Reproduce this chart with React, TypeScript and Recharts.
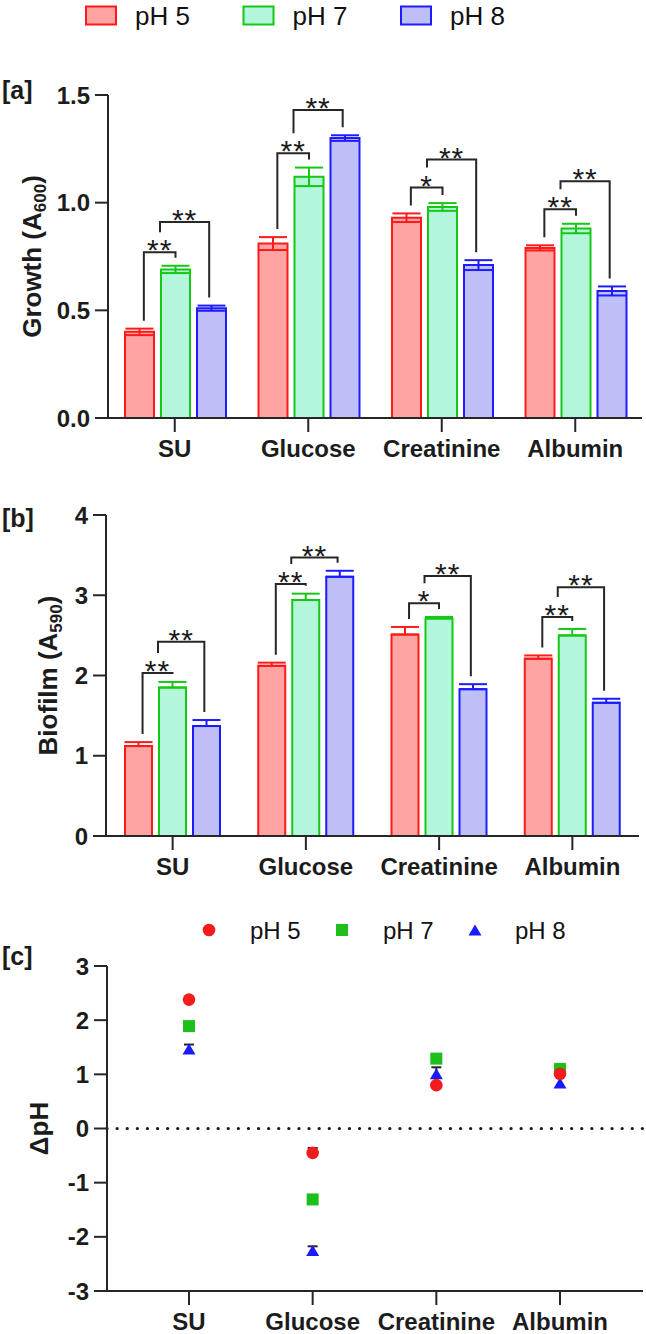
import React from "react";
import {
  BarChart,
  Bar,
  XAxis,
  YAxis,
  ErrorBar,
  Rectangle,
  ComposedChart,
  Scatter,
  ReferenceLine,
} from "recharts";

const CATEGORIES = ["SU", "Glucose", "Creatinine", "Albumin"];
const SERIES = ["pH 5", "pH 7", "pH 8"];

// [a] growth, A600 (mean, error)
const GROWTH_PH5 = [0.4, 0.81, 0.93, 0.79];
const GROWTH_PH7 = [0.69, 1.12, 0.98, 0.88];
const GROWTH_PH8 = [0.51, 1.3, 0.71, 0.59];
const GROWTH_ERR_PH5 = [0.015, 0.03, 0.02, 0.012];
const GROWTH_ERR_PH7 = [0.017, 0.043, 0.018, 0.022];
const GROWTH_ERR_PH8 = [0.012, 0.013, 0.023, 0.021];
// significance brackets: first pair, second pair, and their heights
const GROWTH_SIG_A = ["**", "**", "*", "**"];
const GROWTH_SIG_B = ["**", "**", "**", "**"];
const GROWTH_LEVEL_A = [0.77, 1.23, 1.07, 0.97];
const GROWTH_LEVEL_B = [0.91, 1.43, 1.2, 1.1];
const GROWTH_TICKS = [0, 0.5, 1, 1.5];

// [b] biofilm, A590 (mean, upper error)
const BIOFILM_PH5 = [1.12, 2.12, 2.51, 2.21];
const BIOFILM_PH7 = [1.85, 2.94, 2.71, 2.5];
const BIOFILM_PH8 = [1.37, 3.23, 1.83, 1.66];
const BIOFILM_ERR_PH5 = [0.05, 0.04, 0.095, 0.04];
const BIOFILM_ERR_PH7 = [0.07, 0.08, 0.02, 0.08];
const BIOFILM_ERR_PH8 = [0.075, 0.075, 0.062, 0.05];
const BIOFILM_SIG_A = ["**", "**", "*", "**"];
const BIOFILM_SIG_B = ["**", "**", "**", "**"];
const BIOFILM_LEVEL_A = [2.03, 3.14, 2.9, 2.73];
const BIOFILM_LEVEL_B = [2.42, 3.47, 3.24, 3.1];
const BIOFILM_TICKS = [0, 1, 2, 3, 4];

// [c] change in pH (upper error, 0 = hidden behind the marker)
const DPH_PH5 = [2.38, -0.45, 0.8, 1.01];
const DPH_PH7 = [1.89, -1.31, 1.29, 1.1];
const DPH_PH8 = [1.47, -2.25, 1.01, 0.84];
const DPH_ERR_PH5 = [0, 0.09, 0, 0];
const DPH_ERR_PH7 = [0, 0, 0, 0];
const DPH_ERR_PH8 = [0.08, 0.075, 0.12, 0];
const DPH_TICKS = [-3, -2, -1, 0, 1, 2, 3];

const FONT = "'Liberation Sans', Arial, sans-serif";
const INK = "#1c1c1c";
const LINE = "#262626";
const BAR_GAP = 7;

const STROKES = ["#ff1a1a", "#14c814", "#1c1cff"];
const FILLS = ["#ffa3a3", "#b4f6dc", "#bfbff7"];
const MARKS = ["#f21c1c", "#1dbf1d", "#1a1aff"];

const buildRows = (
  v5: number[], v7: number[], v8: number[],
  e5: number[], e7: number[], e8: number[],
  sigA: string[], sigB: string[], lvA: number[], lvB: number[],
  upOnly: boolean
) =>
  CATEGORIES.map((name, i) => ({
    name,
    ph5: v5[i],
    ph7: v7[i],
    ph8: v8[i],
    e5: upOnly ? [0, e5[i]] : e5[i],
    e7: upOnly ? [0, e7[i]] : e7[i],
    e8: upOnly ? [0, e8[i]] : e8[i],
    up5: e5[i],
    up7: e7[i],
    up8: e8[i],
    sigA: sigA[i],
    sigB: sigB[i],
    levelA: lvA[i],
    levelB: lvB[i],
  }));

const growthRows = buildRows(
  GROWTH_PH5, GROWTH_PH7, GROWTH_PH8,
  GROWTH_ERR_PH5, GROWTH_ERR_PH7, GROWTH_ERR_PH8,
  GROWTH_SIG_A, GROWTH_SIG_B, GROWTH_LEVEL_A, GROWTH_LEVEL_B, false
);
const biofilmRows = buildRows(
  BIOFILM_PH5, BIOFILM_PH7, BIOFILM_PH8,
  BIOFILM_ERR_PH5, BIOFILM_ERR_PH7, BIOFILM_ERR_PH8,
  BIOFILM_SIG_A, BIOFILM_SIG_B, BIOFILM_LEVEL_A, BIOFILM_LEVEL_B, true
);
const capOf = (v: number, e: number) => (e > 0 ? v + e : null);
const deltaRows = CATEGORIES.map((name, i) => ({
  name,
  ph5: DPH_PH5[i],
  ph7: DPH_PH7[i],
  ph8: DPH_PH8[i],
  cap5: capOf(DPH_PH5[i], DPH_ERR_PH5[i]),
  cap7: capOf(DPH_PH7[i], DPH_ERR_PH7[i]),
  cap8: capOf(DPH_PH8[i], DPH_ERR_PH8[i]),
}));

// last bar of each group also draws the two significance brackets,
// using its own rect to recover the value -> pixel mapping
const BracketBar = (props: any) => {
  const { x, y, width: w, height: h, payload: d } = props;
  const base = y + h;
  const k = h / d.ph8;
  const py = (v: number) => base - v * k;
  const step = w + BAR_GAP;
  const xRed = x - 2 * step;
  const xGreen = x - step;
  const aL = xRed + 0.65 * w;
  const aR = xGreen + 0.5 * w;
  const bL = xGreen - 1;
  const bR = x + 0.42 * w;
  const aY = py(d.levelA);
  const bY = py(d.levelB);
  const aLegL = py(d.ph5 + d.up5) - 8;
  const aLegR = py(d.ph7 + d.up7) - 8;
  const bLegL = aY - 20;
  const bLegR = py(d.ph8 + d.up8) - 8;
  return (
    <g>
      <Rectangle {...props} />
      <g fill="none" stroke={LINE} strokeWidth={2}>
        <polyline points={`${aL},${aLegL} ${aL},${aY} ${aR},${aY} ${aR},${aLegR}`} />
        <polyline points={`${bL},${bLegL} ${bL},${bY} ${bR},${bY} ${bR},${bLegR}`} />
      </g>
      <g fill={INK} fontSize={30} textAnchor="middle" letterSpacing={1}>
        <text x={(aL + aR) / 2} y={aY + 8}>{d.sigA}</text>
        <text x={(bL + bR) / 2} y={bY + 8}>{d.sigB}</text>
      </g>
    </g>
  );
};

const axisTitle = (main: string, sub: string, tail: string, x: number) => (p: any) => {
  const vb = p.viewBox || {};
  const cy = (vb.y ?? 0) + (vb.height ?? 0) / 2;
  return (
    <text
      transform={`translate(${x},${cy}) rotate(-90)`}
      textAnchor="middle"
      fontSize={26}
      fontWeight={700}
      fill={INK}
    >
      {main}
      {sub && (
        <tspan fontSize={17} dy={5}>
          {sub}
        </tspan>
      )}
      {tail && <tspan dy={sub ? -5 : 0}>{tail}</tspan>}
    </text>
  );
};

const tickStyle = { fontSize: 24, fontWeight: 700, fill: INK };
const axisStyle = { stroke: LINE, strokeWidth: 2 };

// error cap above a marker; its stem runs down under the marker drawn later
const capMark = (key: string) => (p: any) =>
  p.payload?.[key] == null || !Number.isFinite(p.cy) ? null : (
    <g stroke={LINE} strokeWidth={2}>
      <line x1={p.cx - 5} x2={p.cx + 5} y1={p.cy} y2={p.cy} />
      <line x1={p.cx} x2={p.cx} y1={p.cy} y2={p.cy + 8} />
    </g>
  );
const CircleMark = (p: any) => <circle cx={p.cx} cy={p.cy} r={6.3} fill={MARKS[0]} />;
const SquareMark = (p: any) => (
  <rect x={p.cx - 6} y={p.cy - 6} width={12} height={12} fill={MARKS[1]} />
);
const TriangleMark = (p: any) => (
  <path
    d={`M${p.cx},${p.cy - 5.5} L${p.cx + 6.5},${p.cy + 5.5} L${p.cx - 6.5},${p.cy + 5.5} Z`}
    fill={MARKS[2]}
  />
);

const BarPanel = ({ rows, ticks, domain, fmt, title, titleX, yWidth, plotTop, xHeight, height, right, catGap }: any) => (
  <BarChart
    width={646}
    height={height}
    data={rows}
    margin={{ top: plotTop, right, bottom: 0, left: 0 }}
    barGap={BAR_GAP}
    barCategoryGap={catGap}
  >
    <XAxis
      dataKey="name"
      height={xHeight}
      axisLine={axisStyle}
      tickLine={axisStyle}
      tickSize={14}
      tickMargin={8}
      tick={tickStyle}
    />
    <YAxis
      width={yWidth}
      domain={domain}
      ticks={ticks}
      tickFormatter={fmt}
      axisLine={axisStyle}
      tickLine={axisStyle}
      tickSize={13}
      tickMargin={5}
      tick={tickStyle}
      label={title(titleX)}
    />
    <Bar dataKey="ph5" name={SERIES[0]} fill={FILLS[0]} stroke={STROKES[0]} strokeWidth={2} isAnimationActive={false}>
      <ErrorBar dataKey="e5" width={14} stroke={STROKES[0]} strokeWidth={2} isAnimationActive={false} />
    </Bar>
    <Bar dataKey="ph7" name={SERIES[1]} fill={FILLS[1]} stroke={STROKES[1]} strokeWidth={2} isAnimationActive={false}>
      <ErrorBar dataKey="e7" width={14} stroke={STROKES[1]} strokeWidth={2} isAnimationActive={false} />
    </Bar>
    <Bar
      dataKey="ph8"
      name={SERIES[2]}
      fill={FILLS[2]}
      stroke={STROKES[2]}
      strokeWidth={2}
      shape={BracketBar}
      isAnimationActive={false}
    >
      <ErrorBar dataKey="e8" width={14} stroke={STROKES[2]} strokeWidth={2} isAnimationActive={false} />
    </Bar>
  </BarChart>
);

const Overlay = () => (
  <svg
    width={646}
    height={1334}
    style={{ position: "absolute", left: 0, top: 0, pointerEvents: "none" }}
  >
    {/* bar legend */}
    {SERIES.map((s, i) => (
      <g key={s} transform={`translate(${85 + i * 157.5},0)`}>
        <rect x={1} y={6.5} width={30} height={18} fill={FILLS[i]} stroke={STROKES[i]} strokeWidth={2} />
        <text x={50} y={25} fontSize={26} fill="#111">
          {s}
        </text>
      </g>
    ))}
    {/* panel letters */}
    <g fontSize={25} fontWeight={700} fill={INK}>
      <text x={2} y={99}>[a]</text>
      <text x={2} y={527}>[b]</text>
      <text x={2} y={965}>[c]</text>
    </g>
    {/* scatter legend */}
    <circle cx={209} cy={930} r={6.3} fill={MARKS[0]} />
    <rect x={336} y={924} width={12} height={12} fill={MARKS[1]} />
    <path d="M475,924.5 L481.5,935.5 L468.5,935.5 Z" fill={MARKS[2]} />
    <g fontSize={24} fill="#111">
      <text x={250} y={939}>{SERIES[0]}</text>
      <text x={383} y={939}>{SERIES[1]}</text>
      <text x={515} y={939}>{SERIES[2]}</text>
    </g>
  </svg>
);

export default function App() {
  return (
    <div
      style={{
        position: "absolute",
        left: 0,
        top: 0,
        width: 646,
        height: 1334,
        background: "#fff",
        fontFamily: FONT,
        overflow: "hidden",
      }}
    >
      <div style={{ position: "absolute", left: 0, top: 0 }}>
        <BarPanel
          rows={growthRows}
          ticks={GROWTH_TICKS}
          domain={[0, 1.5]}
          fmt={(v: number) => v.toFixed(1)}
          title={(x: number) => axisTitle("Growth (A", "600", ")", x)}
          titleX={41}
          yWidth={108}
          plotTop={95}
          xHeight={52}
          height={470}
          right={4}
          catGap={17}
        />
      </div>
      <div style={{ position: "absolute", left: 0, top: 460 }}>
        <BarPanel
          rows={biofilmRows}
          ticks={BIOFILM_TICKS}
          domain={[0, 4]}
          fmt={(v: number) => String(v)}
          title={(x: number) => axisTitle("Biofilm (A", "590", ")", x)}
          titleX={57}
          yWidth={106}
          plotTop={55}
          xHeight={64}
          height={440}
          right={7}
          catGap={19}
        />
      </div>
      <div style={{ position: "absolute", left: 0, top: 900 }}>
        <ComposedChart
          width={646}
          height={434}
          data={deltaRows}
          margin={{ top: 66, right: 3, bottom: 0, left: 0 }}
        >
          <XAxis
            dataKey="name"
            scale="point"
            height={43}
            padding={{ left: 82, right: 83 }}
            axisLine={axisStyle}
            tickLine={axisStyle}
            tickSize={14}
            tickMargin={8}
            tick={tickStyle}
          />
          <YAxis
            width={107}
            domain={[-3, 3]}
            ticks={DPH_TICKS}
            axisLine={axisStyle}
            tickLine={axisStyle}
            tickSize={13}
            tickMargin={5}
            tick={tickStyle}
            label={axisTitle("ΔpH", "", "", 48)}
          />
          <ReferenceLine
            y={0}
            stroke="#1a1a1a"
            strokeWidth={3.2}
            strokeDasharray="0.1 10"
            strokeLinecap="round"
          />
          {/* error caps first so the markers sit on top of them */}
          <Scatter dataKey="cap7" shape={capMark("cap7")} legendType="none" isAnimationActive={false} />
          <Scatter dataKey="cap8" shape={capMark("cap8")} legendType="none" isAnimationActive={false} />
          <Scatter dataKey="cap5" shape={capMark("cap5")} legendType="none" isAnimationActive={false} />
          <Scatter dataKey="ph7" name={SERIES[1]} shape={SquareMark} isAnimationActive={false} />
          <Scatter dataKey="ph8" name={SERIES[2]} shape={TriangleMark} isAnimationActive={false} />
          <Scatter dataKey="ph5" name={SERIES[0]} shape={CircleMark} isAnimationActive={false} />
        </ComposedChart>
      </div>
      <Overlay />
    </div>
  );
}
